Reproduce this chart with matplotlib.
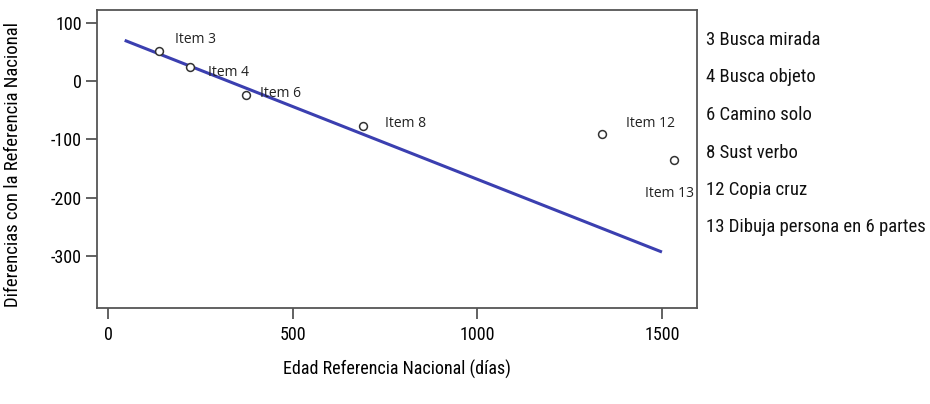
import matplotlib
matplotlib.use("Agg")
import matplotlib.pyplot as plt

# data
item_names = ["Item 3", "Item 4", "Item 6", "Item 8", "Item 12", "Item 13"]
edad = [138, 222, 374, 690, 1337, 1532]
diferencia = [51, 24, -24, -77, -91, -135]

# label offsets from the points (data units)
label_dx = [43, 49, 37, 60, 65, -78]
label_dy = [21, -10, 2, 5, 19, -57]

# drawn line (as in the figure)
line_x = [45, 1500]
line_y = [70, -293]

leyenda = ["3 Busca mirada", "4 Busca objeto", "6 Camino solo",
           "8 Sust verbo", "12 Copia cruz", "13 Dibuja persona en 6 partes"]

xticks = [0, 500, 1000, 1500]
yticks = [100, 0, -100, -200, -300]

narrow = ["Roboto Condensed", "DejaVu Sans"]
plain = ["Open Sans", "DejaVu Sans"]

fig = plt.figure(figsize=(9.3, 4.04), dpi=100)
ax = fig.add_axes([0.1043, 0.2376, 0.6452, 0.7376])

ax.plot(line_x, line_y, color="#3b3fb0", lw=2.2, solid_capstyle="butt")
ax.scatter(edad, diferencia, s=32, facecolors="white", edgecolors="#333333",
           linewidths=1.1, zorder=3)
for n, x, y, dx, dy in zip(item_names, edad, diferencia, label_dx, label_dy):
    ax.text(x + dx, y + dy, n, fontsize=10, family=plain, color="#222222",
            va="center", ha="left")

ax.set_xlim(-30, 1595)
ax.set_ylim(-389, 122)
ax.set_xticks(xticks)
ax.set_yticks(yticks)
ax.set_xticklabels([str(t) for t in xticks], family=narrow, fontsize=13)
ax.set_yticklabels([str(t) for t in yticks], family=narrow, fontsize=13)
ax.tick_params(axis="x", length=8, width=1.3, color="#555555", pad=5)
ax.tick_params(axis="y", length=8, width=1.3, color="#555555", pad=3)
for s in ax.spines.values():
    s.set_color("#555555")
    s.set_linewidth(1.3)

ax.set_xlabel("Edad Referencia Nacional (días)", family=narrow, fontsize=13)
ax.set_ylabel("Diferencias con la Referencia Nacional", family=narrow,
              fontsize=13.5)
ax.xaxis.set_label_coords(0.5, -0.1745)
ax.yaxis.set_label_coords(-0.125, 0.48)

for i, t in enumerate(leyenda):
    fig.text(706 / 930, 1 - (40 + i * 37.5) / 404, t, family=narrow,
             fontsize=13.5, va="center", ha="left", color="#111111")

fig.savefig("out.png", dpi=100)
